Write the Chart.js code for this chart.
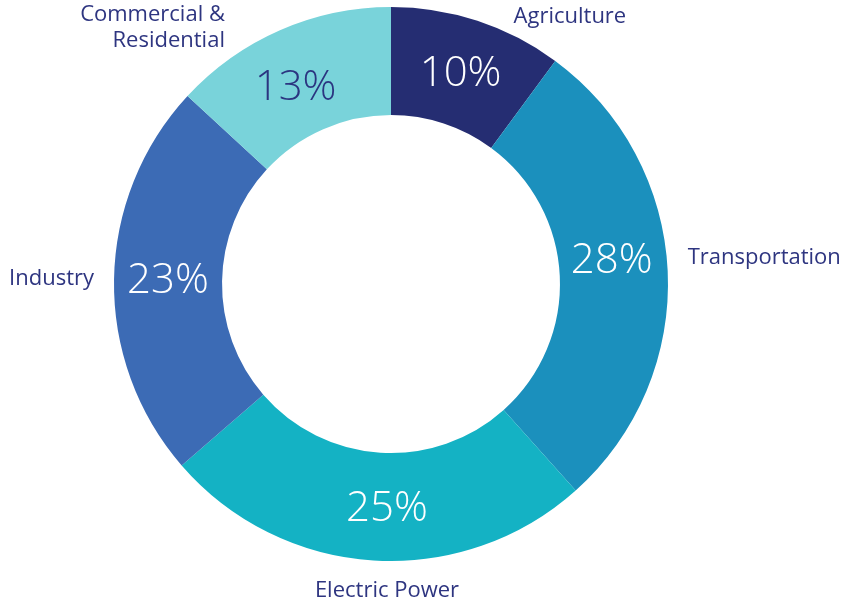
<!DOCTYPE html>
<html>
<head>
<meta charset="utf-8">
<script src="https://cdn.jsdelivr.net/npm/chart.js@4/dist/chart.umd.min.js"></script>
<style>
  html, body { margin: 0; padding: 0; background: #ffffff; }
  #wrap { width: 846px; height: 602px; }
</style>
</head>
<body>
<div id="wrap"><canvas id="c" width="846" height="602"></canvas></div>
<script>
const categories = ["Agriculture", "Transportation", "Electric Power", "Industry", "Commercial & Residential"];
const shares = [10, 28, 25, 23, 13];
const sliceColors = ["#252d72", "#1b90bd", "#14b2c4", "#3c6bb5", "#79d3da"];
const valueLabelColors = ["#ffffff", "#ffffff", "#ffffff", "#ffffff", "#2b3580"];

// Value label nudges from each slice's mid point
const valueNudge = [[0, 2], [-2, -12], [10, 2], [0, 1], [-6, 8]];

// Outer label layout: alignment, offset from the point just outside the slice's mid-angle
const outerLayout = [
  { align: "left",   dx: 33,  dy: 5,  lines: ["Agriculture"] },
  { align: "left",   dx: 0,   dy: -12, lines: ["Transportation"] },
  { align: "center", dx: 15,  dy: 7,  lines: ["Electric Power"] },
  { align: "right",  dx: 0,   dy: -1, lines: ["Industry"] },
  { align: "right",  dx: -51, dy: -6, lines: ["Commercial &", "Residential"] }
];
const outerGap = [10, 20, 23, 20, 10];

const labelPlugin = {
  id: "sliceLabels",
  afterDatasetsDraw(chart) {
    const ctx = chart.ctx;
    const meta = chart.getDatasetMeta(0);
    meta.data.forEach((arc, i) => {
      const p = arc.tooltipPosition();
      ctx.save();
      ctx.fillStyle = valueLabelColors[i];
      ctx.font = "300 42px 'Open Sans', 'Noto Sans', sans-serif";
      ctx.textAlign = "center";
      ctx.textBaseline = "middle";
      ctx.fillText(shares[i] + "%", p.x + valueNudge[i][0], p.y + valueNudge[i][1]);
      ctx.restore();

      const mid = (arc.startAngle + arc.endAngle) / 2;
      const r = arc.outerRadius + outerGap[i];
      const lay = outerLayout[i];
      const x = arc.x + Math.cos(mid) * r + lay.dx;
      const y = arc.y + Math.sin(mid) * r + lay.dy;
      ctx.save();
      ctx.fillStyle = "#2e3580";
      ctx.font = "400 22px 'Open Sans', 'Noto Sans', sans-serif";
      ctx.textAlign = lay.align;
      ctx.textBaseline = "middle";
      lay.lines.forEach((t, k) => {
        ctx.fillText(t, x, y + k * 26);
      });
      ctx.restore();
    });
  }
};

new Chart(document.getElementById("c"), {
  type: "doughnut",
  data: {
    labels: categories,
    datasets: [{
      data: shares,
      backgroundColor: sliceColors,
      borderWidth: 0,
      hoverOffset: 0
    }]
  },
  options: {
    responsive: false,
    devicePixelRatio: 1,
    animation: false,
    cutout: "61%",
    layout: { padding: { left: 114, right: 178, top: 7, bottom: 41 } },
    plugins: {
      legend: { display: false },
      tooltip: { enabled: false }
    }
  },
  plugins: [labelPlugin]
});
</script>
</body>
</html>
